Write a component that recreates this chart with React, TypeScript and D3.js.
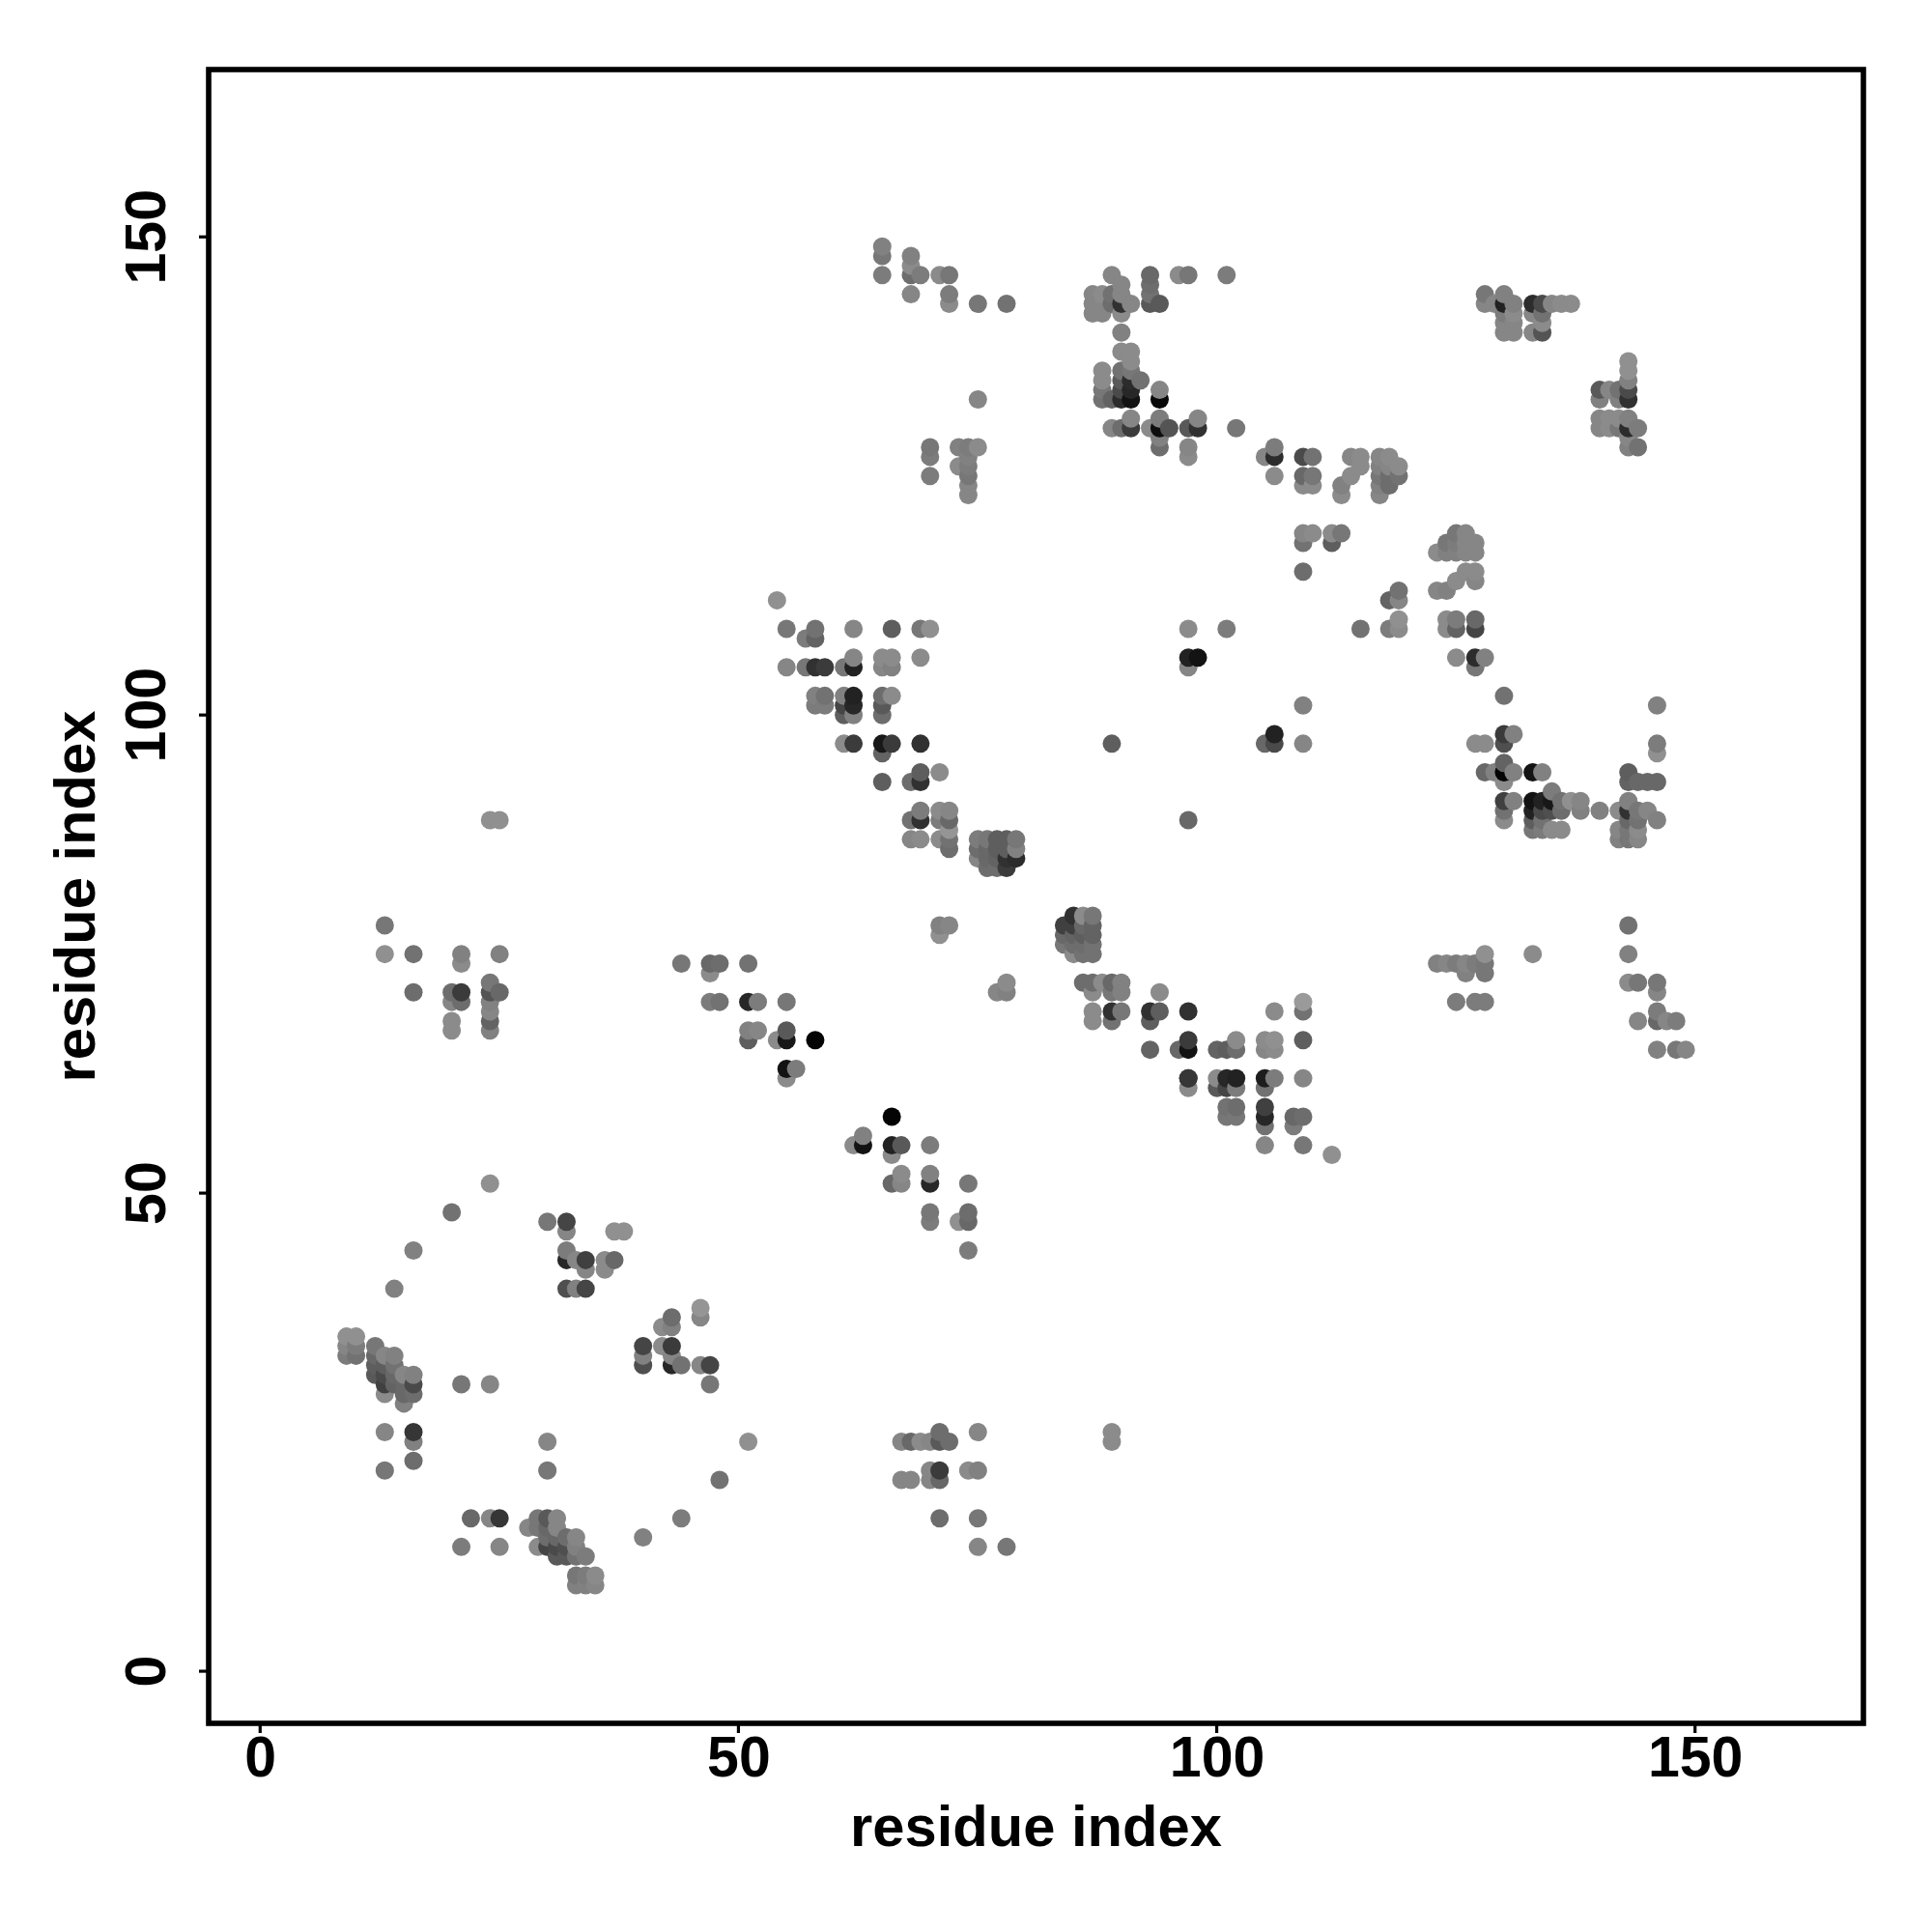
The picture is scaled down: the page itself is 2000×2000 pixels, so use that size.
import React from "react";
import * as d3 from "d3";

type P = [number, number, number];
const ticks = [0, 50, 100, 150];
const axisTitle = "residue index";

const lowerLeft: P[] = [
[24,51,140],[20,48,110],[30,47,115],[32,47,65],[32,46,130],[37,46,140],[38,46,140],[16,44,125],[32,44,120],[32,43,35],[33,43,130],[34,43,60],[34,42,130],[36,43,135],[37,43,100],[36,42,135],[14,40,125],[32,40,75],[33,40,125],[34,40,65],
[46,38,145],[46,37,130],[43,37,105],[42,36,135],[43,36,125],[40,34,65],[42,34,135],[43,34,55],[43,33,130],[40,33,125],[40,32,75],[43,32,35],[44,32,110],[46,32,130],[47,32,65],[47,30,115],
[9,35,140],[10,35,140],[9,34,130],[10,34,120],[9,33,120],[10,33,110],[12,34,115],[12,33,100],[12,32,90],[12,31,85],[13,33,130],[13,32,90],[13,31,70],[13,30,60],[13,29,135],[14,33,125],[14,32,110],[14,31,100],[14,30,95],[15,31,130],[15,30,100],[15,29,100],[15,28,125],[16,31,125],[16,30,70],[16,29,105],[21,30,115],[24,30,130],
[13,25,130],[16,25,50],[16,24,125],[16,22,105],[13,21,115],[30,24,130],[30,21,115],[51,24,140],[48,20,110],[44,16,120],[40,14,125],[22,16,100],[24,16,130],[25,16,50],[21,13,120],[25,13,130],
[28,15,130],[29,16,115],[29,15,115],[29,13,135],[30,16,85],[30,15,100],[30,14,105],[30,13,65],[31,16,130],[31,15,130],[31,14,100],[31,13,70],[31,12,85],[32,14,105],[32,13,75],[32,12,85],[33,14,130],[33,13,125],[33,12,110],[34,12,120],[33,10,115],[33,9,125],[34,10,120],[34,9,125],[35,10,135],[35,9,130],
];

const lowerMiddle: P[] = [
[66,58,0],[63,56,125],[63,55,15],[62,55,135],[66,55,30],[67,55,85],[66,54,135],[70,55,120],[67,52,135],[70,52,125],[66,51,100],[67,51,130],[70,51,35],[74,51,115],[70,48,115],[70,47,120],[74,48,105],[74,47,100],[73,47,140],[74,44,120],
[55,63,15],[56,63,120],[55,62,135],[97,62,55],[97,61,135],[75,25,130],[71,25,105],[71,24,85],[72,24,105],[70,24,130],[69,24,135],[68,24,100],[67,24,130],[70,21,130],[71,21,55],[70,20,130],[71,20,100],[67,20,130],[68,20,130],[74,21,135],[75,21,125],[71,16,105],[75,16,115],[75,13,130],[78,13,115],[89,25,135],[89,24,135],
];

const middleLeft: P[] = [
[24,89,140],[25,89,140],[13,78,115],[13,75,140],[16,75,110],[21,75,125],[21,74,135],[25,75,125],[16,71,105],[20,71,105],[21,71,55],[20,70,130],[21,70,105],[20,68,135],[20,67,135],[24,72,115],[24,71,80],[25,71,100],[24,70,125],[24,69,130],[24,68,95],[24,67,125],
[44,74,115],[47,74,100],[48,74,105],[51,74,110],[47,73,135],[47,70,120],[48,70,110],[51,70,35],[52,70,120],[55,70,115],[51,67,125],[52,67,130],[51,66,90],[55,67,85],[55,66,20],[54,66,135],[58,66,0],
];

const centerDiagonal: P[] = [
[54,112,140],[55,109,115],[58,109,110],[58,108,95],[57,108,120],[62,109,130],[66,109,90],[69,109,115],[70,109,140],[62,106,130],[65,106,135],[66,106,135],[69,106,135],[55,105,130],[57,105,115],[58,105,45],[59,105,55],[61,105,115],[62,105,30],[65,105,130],[66,105,125],
[58,102,125],[59,102,110],[58,101,120],[59,101,120],[61,102,125],[62,102,30],[61,101,65],[62,101,35],[61,100,90],[62,100,125],[65,102,105],[66,102,135],[65,101,85],[65,100,105],[61,97,135],[62,97,55],[65,97,20],[66,97,55],[65,96,95],[69,97,45],
[69,94,90],[71,94,135],[68,93,105],[69,93,45],[65,93,90],[69,90,120],[71,90,135],[72,90,130],[68,89,110],[69,89,45],[71,89,120],[72,89,100],[68,87,130],[69,87,135],[71,87,135],[72,88,145],[72,87,110],[72,86,105],
[75,87,120],[76,87,115],[77,87,90],[78,87,90],[79,87,115],[75,86,105],[76,86,100],[77,86,90],[78,86,90],[79,86,125],[75,85,130],[76,85,100],[77,85,95],[78,85,45],[79,85,40],[76,84,105],[77,84,105],[78,84,55],
[71,78,125],[72,78,130],[71,77,140],[77,71,130],[78,72,135],[78,71,125],
];

const centerRight: P[] = [
[85,79,45],[86,79,135],[87,79,115],[84,78,60],[85,78,60],[86,78,100],[87,78,95],[84,77,100],[85,77,95],[86,77,90],[87,77,95],[84,76,115],[85,76,105],[86,76,105],[87,76,110],[85,75,135],[86,75,110],[87,75,110],
[86,72,105],[87,72,105],[88,72,135],[89,72,100],[90,72,125],[87,71,135],[89,71,115],[90,71,125],[94,71,135],[87,69,135],[87,68,135],[89,69,45],[90,69,115],[89,68,110],[93,69,45],[94,69,90],[93,68,90],[97,69,45],[106,69,135],[109,70,150],[109,69,110],
[93,65,95],[96,65,100],[97,66,55],[97,65,15],[100,65,95],[101,65,90],[102,66,135],[102,65,105],[105,66,135],[106,66,140],[105,65,130],[106,65,135],[109,66,90],
[97,62,50],[100,62,135],[101,62,35],[102,62,30],[100,61,85],[101,61,65],[102,61,120],[105,62,25],[106,62,120],[105,61,110],[109,62,130],[101,59,110],[102,59,105],[101,58,115],[102,58,115],[105,59,60],[105,58,35],[105,57,110],[108,58,100],[109,58,105],[108,57,120],[105,55,130],[109,55,115],[112,54,140],
];

const rightColumn: P[] = [
[130,102,110],[146,101,125],[130,98,55],[131,98,125],[130,97,75],[127,97,135],[128,97,135],[146,97,120],[146,96,140],[130,95,95],[128,94,100],[129,94,125],[130,94,0],[131,94,125],[130,93,135],[133,94,15],[134,94,125],[143,94,90],[143,93,95],[144,93,100],[145,93,100],[146,93,100],[135,92,120],
[130,91,60],[131,91,125],[130,90,110],[130,89,135],[133,91,15],[134,91,30],[135,91,20],[136,91,110],[137,91,140],[138,91,130],[133,90,30],[134,90,70],[135,90,75],[136,90,105],[138,90,125],[140,90,125],[133,89,90],[134,89,110],[133,88,115],[134,88,120],[135,88,135],[136,88,135],
[143,91,125],[142,90,135],[143,90,45],[144,90,115],[145,90,130],[143,89,100],[144,89,110],[146,89,125],[142,88,130],[143,88,115],[144,88,135],[142,87,125],[143,87,115],[144,87,130],
[143,78,110],[143,75,125],[133,75,135],[128,75,140],[123,74,125],[124,74,130],[125,74,120],[126,74,130],[127,74,120],[128,74,115],[126,73,125],[128,73,115],[125,70,120],[127,70,120],[128,70,120],[143,72,135],[144,72,115],[146,72,115],[146,71,130],[146,69,120],[144,68,130],[146,68,100],[147,68,130],[148,68,120],[146,65,125],[148,65,115],[149,65,130],
];

const upperMiddle: P[] = [
[89,146,130],[93,146,100],[96,146,135],[97,146,115],[101,146,120],[90,145,130],[93,145,105],[87,144,130],[88,144,135],[89,144,110],[90,144,130],[93,144,110],[87,143,130],[88,143,130],[89,143,105],[90,143,45],[91,143,130],[93,143,85],[94,143,85],[87,142,130],[88,142,130],[90,142,135],[90,140,125],[90,138,135],[91,138,135],[91,137,135],
[88,136,135],[90,136,110],[91,136,115],[88,135,135],[90,135,85],[91,135,40],[92,135,110],[88,134,115],[90,134,70],[91,134,35],[94,134,130],[88,133,110],[89,133,95],[90,133,40],[91,133,15],[94,133,5],[91,131,130],[94,131,120],[98,131,130],[89,130,130],[90,130,105],[91,130,55],[93,130,135],[94,130,10],[95,130,80],[97,130,85],[98,130,45],[102,130,115],[94,129,125],[94,128,105],[97,128,130],[97,127,135],
[106,128,120],[106,127,40],[105,127,130],[106,125,135],[109,127,70],[110,127,110],[109,125,100],[110,125,115],[109,124,135],[110,124,135],[114,127,130],[115,127,135],[115,126,135],[114,125,135],[113,124,125],[113,123,135],[117,127,130],[118,127,135],[117,126,125],[118,126,130],[119,126,135],[117,125,115],[118,125,105],[119,125,110],[117,124,125],[118,124,105],[117,123,130],
];

const upperRight: P[] = [
[128,144,115],[130,144,125],[128,143,130],[129,143,130],[130,143,30],[131,143,125],[130,142,120],[131,142,135],[130,141,130],[131,141,130],[130,140,130],[131,140,130],[133,143,40],[134,143,70],[135,143,130],[136,143,135],[137,143,135],[133,142,130],[134,142,110],[134,141,135],[133,140,130],[134,140,80],
[143,137,140],[143,136,140],[143,135,125],[140,134,85],[141,134,130],[142,134,110],[143,134,70],[140,133,125],[142,133,125],[143,133,45],[140,131,130],[141,131,135],[142,131,135],[143,131,125],[140,130,130],[141,130,135],[142,130,115],[143,130,40],[144,130,120],[143,129,130],[143,128,125],[144,128,110],
];

const upperLeft: P[] = [
[65,149,125],[65,148,115],[65,146,120],[68,148,125],[68,147,135],[68,146,105],[69,146,120],[71,146,135],[72,146,115],[68,144,130],[72,144,120],[72,143,135],[75,143,115],[78,143,110],[75,133,130],[70,128,115],[70,127,120],[70,125,120],[73,128,125],[74,128,120],[75,128,135],[73,126,135],[74,127,125],[74,126,120],[74,125,115],[74,124,130],[74,123,130],
];

const middleUpper: P[] = [
[109,119,130],[110,119,135],[109,118,110],[112,119,135],[113,119,115],[112,118,90],[109,115,105],[119,113,110],[118,112,95],[119,112,130],[119,110,140],[115,109,110],[118,109,120],[119,109,135],
[125,119,115],[126,119,130],[124,118,115],[125,118,120],[126,118,130],[127,118,130],[123,117,135],[124,117,125],[125,117,125],[126,117,130],[127,117,130],[126,115,135],[127,115,135],[125,114,135],[127,114,130],[123,113,130],[124,113,125],
[124,110,135],[125,110,120],[127,110,100],[124,109,135],[125,109,95],[127,109,65],[125,106,135],[127,106,40],[128,106,125],[127,105,115],
[106,98,30],[105,97,100],[106,97,70],[109,101,125],[109,97,130],[89,97,90],[97,89,100],[97,109,135],[101,109,120],[97,106,30],[98,106,15],[97,105,130],
];

const allPoints: P[] = [lowerLeft, lowerMiddle, middleLeft, centerDiagonal, centerRight, rightColumn, upperMiddle, upperRight, upperLeft, middleUpper]
  .flat()
  .sort((a, b) => a[0] - b[0] || a[1] - b[1]);

const FONT = "'Liberation Sans', Arial, sans-serif";

export default function App() {
  const x = d3.scaleLinear().domain([-5.38, 167.6]).range([216, 1929]);
  const y = d3.scaleLinear().domain([-5.45, 167.5]).range([1784, 72]);
  return (
    <svg width={2000} height={2000} style={{ position: "absolute", left: 0, top: 0, background: "#fff" }}>
      {allPoints.map((p, i) => (
        <circle key={i} cx={x(p[0]) + 0.3} cy={y(p[1])} r={9.5} fill={d3.rgb(p[2] + 4, p[2] + 4, p[2] + 4).formatHex()} />
      ))}
      <rect x={216} y={72} width={1713} height={1712} fill="none" stroke="#000" strokeWidth={5.6} />
      {ticks.map((t) => (
        <g key={t}>
          <line x1={x(t)} x2={x(t)} y1={1784} y2={1794} stroke="#000" strokeWidth={3.2} />
          <text x={x(t) + 0.5} y={1839} textAnchor="middle" fontFamily={FONT} fontWeight="bold" fontSize={59}>{t}</text>
          <line x1={206} x2={216} y1={y(t)} y2={y(t)} stroke="#000" strokeWidth={3.2} />
          <text transform={`translate(171,${y(t)}) rotate(-90)`} textAnchor="middle" fontFamily={FONT} fontWeight="bold" fontSize={59}>{t}</text>
        </g>
      ))}
      <text x={1072.5} y={1911} textAnchor="middle" fontFamily={FONT} fontWeight="bold" fontSize={59.7}>{axisTitle}</text>
      <text transform="translate(98,928) rotate(-90)" textAnchor="middle" fontFamily={FONT} fontWeight="bold" fontSize={59.7}>{axisTitle}</text>
    </svg>
  );
}
